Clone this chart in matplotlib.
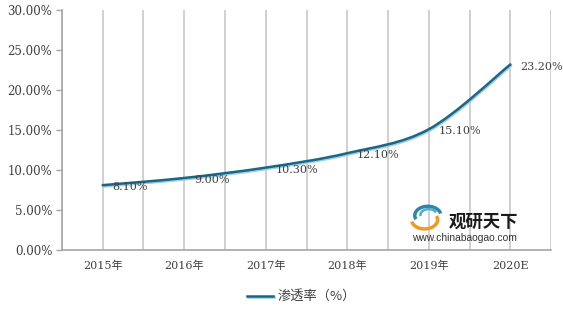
import numpy as np
import matplotlib.pyplot as plt
from matplotlib.path import Path
from matplotlib.patches import PathPatch, Arc
import matplotlib.patheffects as pe

plt.rcParams['font.family'] = ['DejaVu Serif', 'Noto Sans CJK SC']

years = ['2015年', '2016年', '2017年', '2018年', '2019年', '2020E']
rate = [8.10, 9.00, 10.30, 12.10, 15.10, 23.20]
yticks = [0, 5, 10, 15, 20, 25, 30]
series_name = '渗透率（%）'

fig = plt.figure(figsize=(5.63, 3.14), dpi=100)
ax = fig.add_axes([0.110, 0.204, 0.869, 0.764])

x = np.arange(len(years))
y = np.array(rate)

# smooth curve through the points (catmull-rom -> bezier)
pts = np.column_stack([x, y])
ext = np.vstack([pts[0], pts, pts[-1]])
verts = [tuple(pts[0])]
codes = [Path.MOVETO]
for i in range(len(pts) - 1):
    p0, p1, p2, p3 = ext[i], ext[i + 1], ext[i + 2], ext[i + 3]
    c1 = p1 + (p2 - p0) / 6
    c2 = p2 - (p3 - p1) / 6
    verts += [tuple(c1), tuple(c2), tuple(p2)]
    codes += [Path.CURVE4] * 3
shadow = [pe.SimpleLineShadow(offset=(0.5, -1.0), shadow_color='#9ACFE3', alpha=1.0, rho=1.0),
          pe.Normal()]
curve = PathPatch(Path(verts, codes), fill=False, edgecolor='#1C6585', lw=1.8,
                  zorder=3, capstyle='round', path_effects=shadow)
ax.add_patch(curve)
ax.plot([], [], color='#1C6585', lw=1.8, label=series_name, path_effects=shadow)

for xi, yi in zip(x, y):
    ax.annotate(f'{yi:.2f}%', (xi, yi), xytext=(7, -1.5), textcoords='offset points',
                ha='left', va='center', fontsize=8, color='#404040', zorder=4)

ax.set_xlim(-0.5, len(years) - 0.5)
ax.set_ylim(0, 30)
ax.set_yticks(yticks)
ax.set_yticklabels([f'{v:.2f}%' for v in yticks])
ax.set_xticks(x)
ax.set_xticklabels(years)
ax.tick_params(axis='x', length=0, pad=8, labelsize=8, labelcolor='#404040')
ax.tick_params(axis='y', length=4, width=1, color='#A6A6A6', labelsize=8.5,
               labelcolor='#404040', pad=3)

for gx in np.arange(-0.5, len(years), 0.5):
    ax.axvline(gx, color='#C8C8C8', lw=1.2, zorder=1)

for s in ['top', 'right']:
    ax.spines[s].set_visible(False)
for s in ['left', 'bottom']:
    ax.spines[s].set_color('#A6A6A6')
    ax.spines[s].set_linewidth(1.2)

leg = fig.legend(loc='center', bbox_to_anchor=(0.535, 0.055), frameon=False,
                 handlelength=2.0, handletextpad=0.3,
                 prop={'family': ['Noto Sans CJK SC'], 'size': 9.5})
for t in leg.get_texts():
    t.set_color('#404040')

# watermark
fig.text(0.797, 0.293, '观研天下', fontsize=12.5, fontweight='bold', color='#1A1A1A',
         ha='left', va='center', family=['Noto Sans CJK SC'])
fig.text(0.731, 0.242, 'www.chinabaogao.com', fontsize=7.4, color='#333333',
         ha='left', va='center', family=['Liberation Sans'])
lax = fig.add_axes([0.728, 0.262, 0.058, 0.09])
lax.set_xlim(-1, 1)
lax.set_ylim(-1, 1)
lax.axis('off')
lax.add_patch(Arc((0.1, 0.15), 1.6, 1.3, theta1=10, theta2=200, color='#2E86AB', lw=2.5))
lax.add_patch(Arc((0.15, 0.2), 1.0, 0.8, theta1=20, theta2=190, color='#4FB0C6', lw=1.8))
lax.add_patch(Arc((-0.1, -0.15), 1.6, 1.3, theta1=190, theta2=380, color='#F39A1E', lw=2.5))

fig.savefig('out.png', dpi=100)
